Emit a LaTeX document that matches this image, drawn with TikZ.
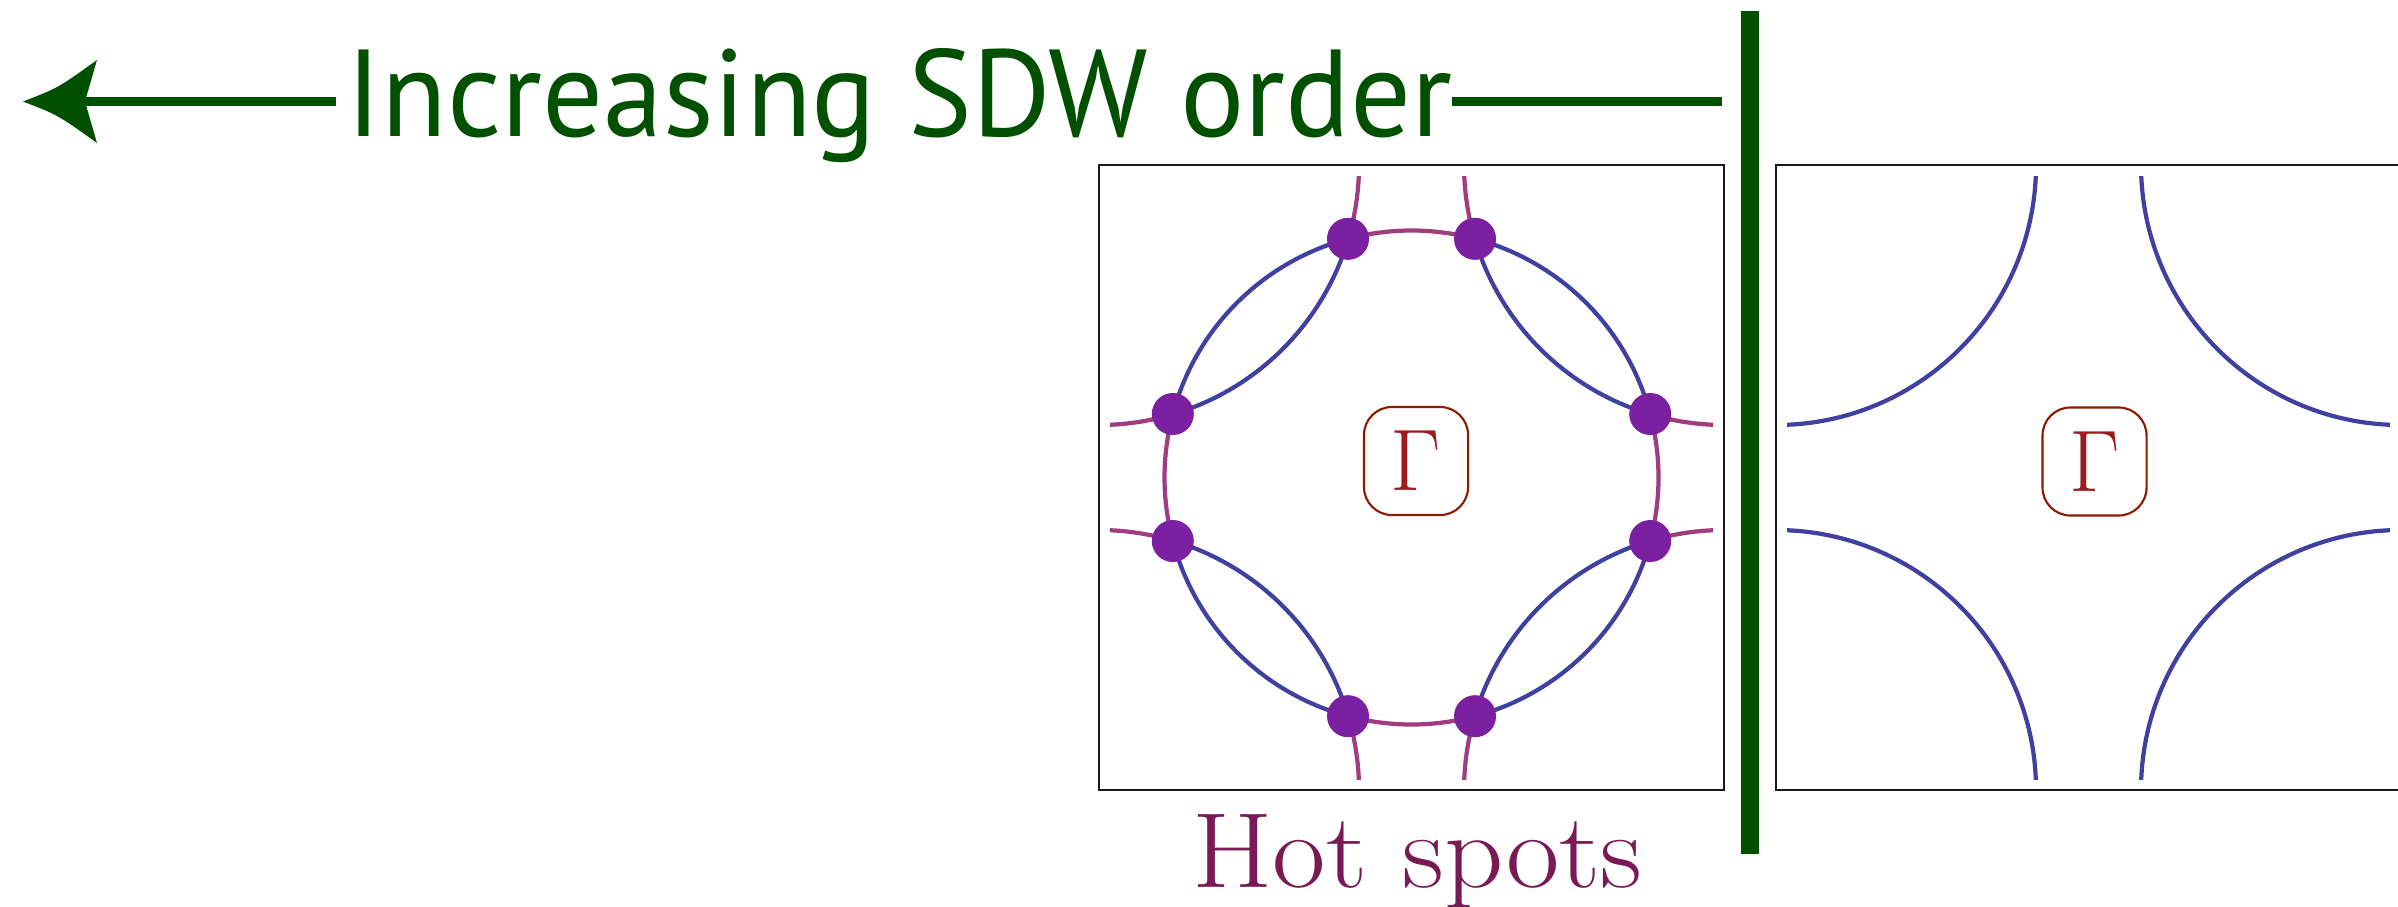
\documentclass[tikz,border=0pt]{standalone}
\usepackage{graphicx}
\usepackage{fontspec}
\newfontfamily\sdwfont{PT Sans}
\usetikzlibrary{calc}
\definecolor{sdwgreen}{RGB}{0,80,0}
\definecolor{fsblue}{RGB}{64,64,160}
\definecolor{fsmag}{RGB}{160,60,128}
\definecolor{hotdot}{RGB}{123,32,160}
\definecolor{gammared}{RGB}{155,27,31}
\definecolor{gammaframe}{RGB}{139,26,0}
\definecolor{hottext}{RGB}{122,26,85}
\begin{document}
\begin{tikzpicture}[x=0.01cm,y=-0.01cm,
  bzbox/.style={draw=black!90,line width=0.7pt,minimum width=6.25cm,minimum height=6.25cm,inner sep=0pt},
  gbox/.style={draw=gammaframe,line width=0.6pt,rounded corners=0.28cm,minimum width=1.04cm,minimum height=1.08cm,inner sep=0pt,text=gammared,font=\fontsize{27.5}{30}\selectfont},
  bluefs/.style={draw=fsblue,line width=1.2pt},
  magfs/.style={draw=fsmag,line width=1.2pt},
  hotspot/.style={circle,fill=hotdot,minimum size=0.42cm,inner sep=0pt},
  sdwline/.style={draw=sdwgreen,line width=2.65pt},
]
\useasboundingbox (0,0) rectangle (2398,906);
\clip (0,0) rectangle (2398,906);

% title with arrow
\node[anchor=base west,inner sep=0pt,text=sdwgreen] (sdw) at (346,136)
  {\resizebox{11.05cm}{0.88cm}{\sdwfont Increasing SDW order}};
\coordinate (tip) at (23,101.5);
\coordinate (notch) at (85,101.5);
\coordinate (lend) at (336,101.5);
\coordinate (rbeg) at (1452,101.5);
\coordinate (rend) at (1722,101.5);
\draw[sdwline] (lend) -- (notch);
\draw[sdwline] (rbeg) -- (rend);
\fill[sdwgreen] (tip) .. controls (58,88) .. (97,60) -- (notch) -- (97,143) .. controls (58,115) .. (tip) -- cycle;
\node[fill=sdwgreen,minimum width=0.18cm,minimum height=8.425cm,inner sep=0pt] (bar) at (1750,432.75) {};

% Brillouin zone boxes
\node[bzbox] (bz1) at (1411.5,477.5) {};
\node[bzbox] (bz2) at (2088.5,477.5) {};

% left panel corners and centre
\coordinate (L1) at (1099,165);
\coordinate (L2) at (1724,165);
\coordinate (L3) at (1724,790);
\coordinate (L4) at (1099,790);
\coordinate (O) at (1411.5,477.5);

\begin{scope}
\clip (1110,176) rectangle (1713,779);
\foreach \b/\c [evaluate=\b as \bA using \b+16.5, evaluate=\b as \bB using \b+73.5, evaluate=\b as \bC using \b+90] in {0/L1,90/L2,180/L3,270/L4} {
  \draw[magfs] ($(\c)+(\b:260)$) arc[start angle=\b, end angle=\bA, radius=260];
  \draw[bluefs] ($(\c)+(\bA:260)$) arc[start angle=\bA, end angle=\bB, radius=260];
  \draw[magfs] ($(\c)+(\bB:260)$) arc[start angle=\bB, end angle=\bC, radius=260];
}
\foreach \m [evaluate=\m as \mA using \m-14.9, evaluate=\m as \mB using \m+14.9] in {270,0,90,180} {
  \draw[magfs] ($(O)+(\mA:247)$) arc[start angle=\mA, end angle=\mB, radius=247];
}
\foreach \m [evaluate=\m as \mA using \m-30.1, evaluate=\m as \mB using \m+30.1] in {225,315,45,135} {
  \draw[bluefs] ($(O)+(\mA:247)$) arc[start angle=\mA, end angle=\mB, radius=247];
}
\end{scope}

\foreach \a/\n in {194.9/1,255.1/2,284.9/3,345.1/4,14.9/5,75.1/6,104.9/7,165.1/8}
  \node[hotspot] (hs\n) at ($(O)+(\a:247)$) {};

% right panel
\coordinate (R1) at (1776,165);
\coordinate (R2) at (2401,165);
\coordinate (R3) at (2401,790);
\coordinate (R4) at (1776,790);
\begin{scope}
\clip (1787,176) rectangle (2390,779);
\foreach \b/\c [evaluate=\b as \bC using \b+90] in {0/R1,90/R2,180/R3,270/R4}
  \draw[bluefs] ($(\c)+(\b:260)$) arc[start angle=\b, end angle=\bC, radius=260];
\end{scope}

% Gamma labels
\node[gbox] (g1) at (1416,461) {$\Gamma$};
\node[gbox] (g2) at (2094.5,461.5) {$\Gamma$};

% caption
\node[anchor=base,text=hottext,font=\fontsize{30.4}{36}\selectfont,inner sep=0pt] (hot) at (1417.5,887) {\scalebox{1.086}[1]{Hot spots}};
\end{tikzpicture}
\end{document}
